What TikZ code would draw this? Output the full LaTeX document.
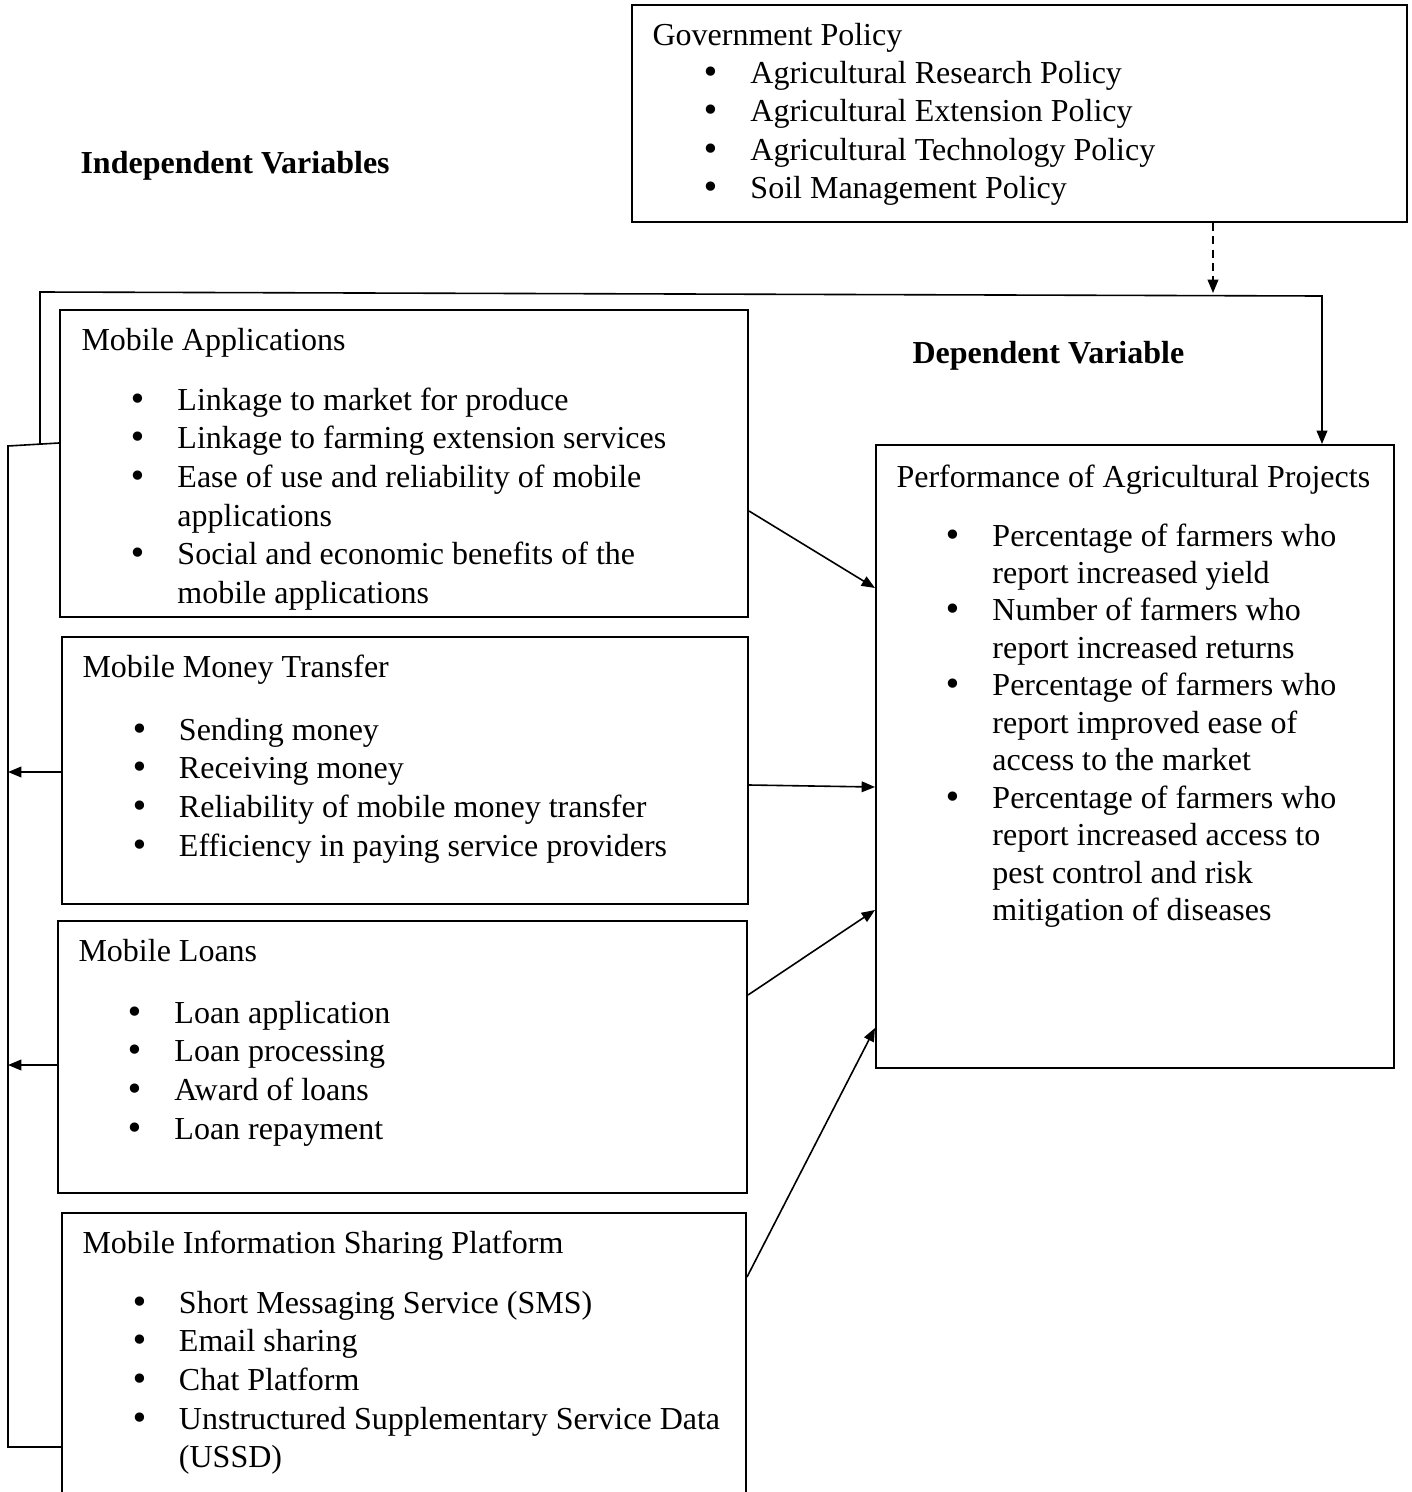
\documentclass[tikz,border=0pt]{standalone}
\usepackage{fontspec}
\setmainfont{Liberation Serif}
\newfontfamily\bulfont{DejaVu Sans}
\usetikzlibrary{arrows.meta,fit}
\newcommand{\mybul}{{\bulfont\hspace*{-0.6pt}•}}
\newcommand{\blist}[1]{\begin{tabular}[t]{@{}p{17.6pt}@{}l@{}}#1\end{tabular}}
\begin{document}
\begin{tikzpicture}[x=0.375pt,y=-0.375pt,
  box/.style={draw,line width=0.75pt,inner sep=0pt,rectangle},
  txt/.style={anchor=base west,inner sep=0pt,font=\fontsize{12}{14.5}\selectfont},
  ptxt/.style={anchor=base west,inner sep=0pt,font=\fontsize{12}{14.06}\selectfont},
  lbl/.style={anchor=base west,inner sep=0pt,font=\fontsize{12}{14.5}\selectfont\bfseries},
  arr/.style={line width=0.6pt,-{Triangle[length=5pt,width=4pt]}},
  dasharr/.style={arr,dash pattern=on 3pt off 2pt},
  con/.style={line width=0.6pt}]
\useasboundingbox (0,0) rectangle (1411,1492);
\clip (0,0) rectangle (1411,1492);

% boxes
\node[box,fit={(632,5) (1407,222)}] (gov) {};
\node[box,fit={(60,310) (748,617)}] (ma) {};
\node[box,fit={(62,637) (748,904)}] (mmt) {};
\node[box,fit={(58,921) (747,1193)}] (ml) {};
\node[box,fit={(62,1213) (746,1520)}] (mis) {};
\node[box,fit={(876,445) (1394,1068)}] (perf) {};

% labels
\node[lbl] (indep) at (80,173) {Independent Variables};
\node[lbl] (dep) at (912,363) {Dependent Variable};

% government policy
\node[txt] (govt) at (652,45) {Government Policy};
\node[txt] (govl) at (703,83) {\blist{%
\mybul & Agricultural Research Policy\\
\mybul & Agricultural Extension Policy\\
\mybul & Agricultural Technology Policy\\
\mybul & Soil Management Policy}};

% mobile applications
\node[txt] (mat) at (81,350) {Mobile Applications};
\node[txt] (mal) at (130,410) {\blist{%
\mybul & Linkage to market for produce\\
\mybul & Linkage to farming extension services\\
\mybul & Ease of use and reliability of mobile\\
 & applications\\
\mybul & Social and economic benefits of the\\
 & mobile applications}};

% mobile money transfer
\node[txt] (mmtt) at (82,677) {Mobile Money Transfer};
\node[txt] (mmtl) at (131.5,740) {\blist{%
\mybul & Sending money\\
\mybul & Receiving money\\
\mybul & Reliability of mobile money transfer\\
\mybul & Efficiency in paying service providers}};

% mobile loans
\node[txt] (mlt) at (78,961) {Mobile Loans};
\node[txt] (mll) at (127,1023) {\blist{%
\mybul & Loan application\\
\mybul & Loan processing\\
\mybul & Award of loans\\
\mybul & Loan repayment}};

% mobile information sharing platform
\node[txt] (mist) at (82,1253) {Mobile Information Sharing Platform};
\node[txt] (misl) at (131.5,1313) {\blist{%
\mybul & Short Messaging Service (SMS)\\
\mybul & Email sharing\\
\mybul & Chat Platform\\
\mybul & Unstructured Supplementary Service Data\\
 & (USSD)}};

% performance
\node[ptxt] (perft) at (896,487) {Performance of Agricultural Projects};
\node[ptxt] (perfl) at (945,546) {\blist{%
\mybul & Percentage of farmers who\\
 & report increased yield\\
\mybul & Number of farmers who\\
 & report increased returns\\
\mybul & Percentage of farmers who\\
 & report improved ease of\\
 & access to the market\\
\mybul & Percentage of farmers who\\
 & report increased access to\\
 & pest control and risk\\
 & mitigation of diseases}};

% connectors
\coordinate (bl) at (8,1447);
\coordinate (ul) at (8,446);
\coordinate (jn) at (40,444);
\coordinate (tl) at (40,292);
\coordinate (tr) at (1322,296);
\coordinate (dt) at (1213,293);

\draw[con] (mis.west |- bl) -- (bl) -- (ul) -- (ma.west |- 0,443);
\draw[arr] (jn) -- (tl) -- (tr) -- (tr |- perf.north);
\draw[dasharr] (gov.south -| dt) -- (dt);

\draw[arr] (mmt.west |- 0,772) -- (ul |- 0,772);
\draw[arr] (ml.west |- 0,1065) -- (ul |- 0,1065);

\draw[arr] (ma.east |- 0,511) -- (perf.west |- 0,588);
\draw[arr] (mmt.east |- 0,785) -- (perf.west |- 0,787);
\draw[arr] (ml.east |- 0,995) -- (perf.west |- 0,910);
\draw[arr] (mis.east |- 0,1277) -- (perf.west |- 0,1028);
\end{tikzpicture}
\end{document}
